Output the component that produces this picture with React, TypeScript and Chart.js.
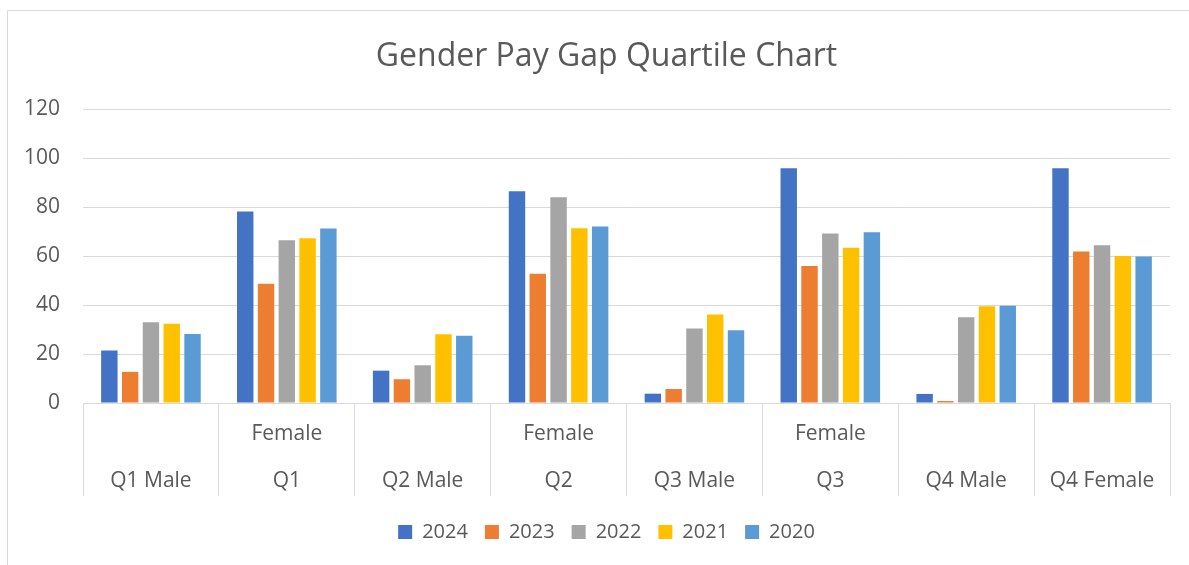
import React, { useEffect, useRef } from "react";
import { Chart, registerables } from "chart.js";

Chart.register(...registerables);

const CATEGORIES = ["Q1 Male", "Female Q1", "Q2 Male", "Female Q2", "Q3 Male", "Female Q3", "Q4 Male", "Q4 Female"];
const TICK_LABELS: string[][] = [
  ["", "Q1 Male"],
  ["Female", "Q1"],
  ["", "Q2 Male"],
  ["Female", "Q2"],
  ["", "Q3 Male"],
  ["Female", "Q3"],
  ["", "Q4 Male"],
  ["", "Q4 Female"],
];
const SERIES_NAMES = ["2024", "2023", "2022", "2021", "2020"];
const V2024 = [21.4, 78.2, 13.2, 86.4, 3.8, 95.8, 3.7, 95.8];
const V2023 = [12.7, 48.7, 9.7, 52.8, 5.7, 55.9, 0.8, 61.8];
const V2022 = [33.0, 66.4, 15.4, 84.0, 30.4, 69.2, 35.0, 64.4];
const V2021 = [32.3, 67.2, 28.1, 71.3, 36.1, 63.4, 39.5, 60.0];
const V2020 = [28.2, 71.2, 27.4, 72.0, 29.7, 69.7, 39.7, 59.8];
const SERIES_VALUES = [V2024, V2023, V2022, V2021, V2020];
const COLORS = ["#4472C4", "#ED7D31", "#A5A5A5", "#FFC000", "#5B9BD5"];
const Y_MIN = 0;
const Y_MAX = 120;
const Y_STEP = 20;
const TITLE = "Gender Pay Gap Quartile Chart";

const FONT = "'Open Sans', 'Liberation Sans', sans-serif";
const TEXT = "#595959";
const GRID = "#d9d9d9";

const frame = {
  id: "frame",
  beforeDraw(chart: any) {
    const ctx = chart.ctx;
    ctx.save();
    ctx.fillStyle = "#ffffff";
    ctx.fillRect(0, 0, chart.width, chart.height);
    ctx.strokeStyle = GRID;
    ctx.lineWidth = 1;
    ctx.beginPath();
    ctx.moveTo(7.5, chart.height);
    ctx.lineTo(7.5, 10.5);
    ctx.lineTo(chart.width, 10.5);
    ctx.stroke();
    ctx.restore();
  },
};

export default function App() {
  const ref = useRef<HTMLCanvasElement>(null);
  useEffect(() => {
    document.body.style.margin = "0";
    document.body.style.overflow = "hidden";
    const chart = new Chart(ref.current as HTMLCanvasElement, {
      type: "bar",
      data: {
        labels: TICK_LABELS,
        datasets: SERIES_NAMES.map((name, i) => ({
          label: name,
          data: SERIES_VALUES[i],
          backgroundColor: COLORS[i],
          borderWidth: 0,
          categoryPercentage: 0.765,
          barPercentage: 0.79,
        })),
      },
      options: {
        responsive: false,
        animation: false,
        layout: { padding: { top: 10, left: 24, right: 0, bottom: 13 } },
        plugins: {
          title: {
            display: true,
            text: TITLE,
            color: TEXT,
            font: { family: FONT, size: 32, weight: "normal", lineHeight: 1.2 },
            padding: { top: 27.5, bottom: 33.1 },
          },
          legend: {
            position: "bottom",
            labels: {
              color: TEXT,
              font: { family: FONT, size: 20 },
              boxWidth: 14,
              boxHeight: 14,
              padding: 17,
            },
          },
          tooltip: { enabled: false },
        },
        scales: {
          x: {
            grid: {
              display: true,
              drawOnChartArea: false,
              drawTicks: true,
              tickLength: 93,
              color: GRID,
              offset: true,
            },
            border: { display: true, color: GRID },
            ticks: {
              color: TEXT,
              font: { family: FONT, size: 21, lineHeight: 47 / 21 },
              padding: -85.5,
              maxRotation: 0,
              minRotation: 0,
              autoSkip: false,
            },
            afterFit(scale: any) {
              scale.height = 102;
            },
          },
          y: {
            min: Y_MIN,
            max: Y_MAX,
            ticks: {
              stepSize: Y_STEP,
              color: TEXT,
              font: { family: FONT, size: 21 },
              padding: 23,
            },
            grid: { color: GRID, drawTicks: false },
            border: { display: false },
            afterFit(scale: any) {
              scale.width = 59;
            },
          },
          yRight: {
            position: "right",
            display: true,
            min: Y_MIN,
            max: Y_MAX,
            ticks: { display: false },
            grid: { display: false, drawTicks: false },
            border: { display: false },
            afterFit(scale: any) {
              scale.width = 19;
            },
          },
        },
      } as any,
      plugins: [frame],
    });
    return () => chart.destroy();
  }, []);
  return (
    <div style={{ width: 1189, height: 565 }}>
      <canvas ref={ref} width={1189} height={565} aria-label={CATEGORIES.join(", ")} />
    </div>
  );
}
